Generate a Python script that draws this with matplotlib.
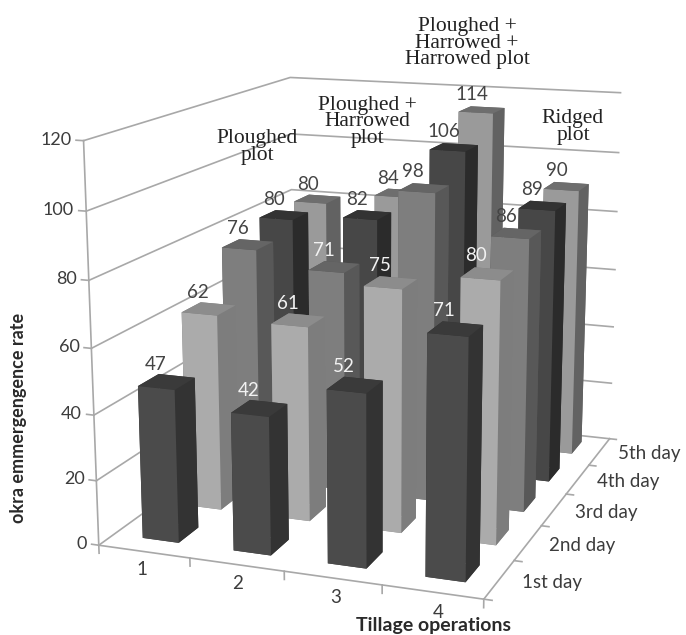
#!/usr/bin/env python3
# -*- coding: utf-8 -*-
import matplotlib
matplotlib.use('Agg')
import matplotlib.pyplot as plt

operations = ['1', '2', '3', '4']
days = ['1st day', '2nd day', '3rd day', '4th day', '5th day']
z_ticks = [0, 20, 40, 60, 80, 100, 120]

# emergence rate per tillage operation, one row per day
day1 = [47, 42, 52, 71]
day2 = [62, 61, 75, 80]
day3 = [76, 71, 98, 86]
day4 = [80, 82, 106, 89]
day5 = [80, 84, 114, 90]
rates = [day1, day2, day3, day4, day5]

# front, top, side shades for each day
shades = [('#4b4b4b', '#3a3a3a', '#333333'),
          ('#ababab', '#8c8c8c', '#7d7d7d'),
          ('#7e7e7e', '#656565', '#585858'),
          ('#474747', '#333333', '#2b2b2b'),
          ('#9a9a9a', '#6e6e6e', '#626262')]

dark = '#444444'
pale = '#f2f2f2'
label_colours = [[dark, pale, pale, pale],
                 [dark, pale, pale, pale],
                 [dark, pale, dark, dark],
                 [dark, dark, dark, dark],
                 [dark, dark, dark, dark]]

plot_names = [('Ploughed\nplot', 257, 147),
              ('Ploughed +\nHarrowed\nplot', 367, 122),
              ('Ploughed +\nHarrowed +\nHarrowed plot', 467, 43),
              ('Ridged\nplot', 573, 127)]

grid_col = '#a8a8a8'
text_col = '#3c3c3c'
font = ['Lato', 'DejaVu Sans']

fig = plt.figure(figsize=(6.86, 6.35), dpi=100)
ax = fig.add_axes([0.034, 0.005, 1.0, 1.0], projection='3d', computed_zorder=False)
ax.set_proj_type('persp', focal_length=0.55)
ax.view_init(elev=14, azim=-70)
ax.set_xlim(0, 4, view_margin=0)
ax.set_ylim(0, 5, view_margin=0)
ax.set_zlim(0, 120, view_margin=0)
ax.set_box_aspect((369, 470, 375), zoom=1.105)
ax.set_axis_off()

# walls and floor
for z in z_ticks:
    ax.plot([0, 0, 4], [0, 5, 5], [z, z, z], color=grid_col, lw=1.2, zorder=1)
ax.plot([0, 0], [0, 0], [0, 120], color=grid_col, lw=1.2, zorder=1)
ax.plot([0, 4, 4], [0, 0, 5], [0, 0, 0], color=grid_col, lw=1.2, zorder=1)

# tick marks
for z in z_ticks:
    ax.plot([0, -0.08], [0, 0], [z, z], color=grid_col, lw=1.2, zorder=1)
for i in range(5):
    ax.plot([i, i], [0, 0], [0, -2.5], color=grid_col, lw=1.2, zorder=1)
for j in range(6):
    ax.plot([4, 4.08], [j, j], [0, 0], color=grid_col, lw=1.2, zorder=1)

# bars, painted from the back row to the front, left to right
bar_w = 0.40
bar_d = 0.45
order = 10
for j in range(len(days) - 1, -1, -1):
    for i in range(len(operations)):
        front, top, side = shades[j]
        # bar3d face order: bottom, top, front, back, left, right
        ax.bar3d(i + 0.52 - bar_w / 2, j + 0.55 - bar_d / 2, 0, bar_w, bar_d, rates[j][i],
                 color=[top, top, front, side, side, side], shade=False, zorder=order)
        order += 1

# value labels sit above every bar
for j in range(len(days)):
    for i in range(len(operations)):
        ax.text(i + 0.405, j + 0.55, rates[j][i] + 5, str(rates[j][i]), ha='center', va='center',
                color=label_colours[j][i], fontsize=13.5, family=font, zorder=100)

for z in z_ticks:
    ax.text(-0.13, 0, z, str(z), ha='right', va='center', color=text_col, fontsize=13,
            family=font, zorder=100)
for i, name in enumerate(operations):
    ax.text(i + 0.7, -0.42, 0, name, ha='center', va='center', color=text_col, fontsize=13.5,
            family=font, zorder=100)
for j, name in enumerate(days):
    ax.text(4.22, j + 0.5, 0, name, ha='left', va='center', color=text_col, fontsize=13.5,
            family=font, zorder=100)

for name, px, py in plot_names:
    fig.text(px / 686, 1 - py / 635, name, ha='center', va='center', fontsize=15.5,
             family='Liberation Serif', color='#222222', linespacing=0.8, zorder=200)

fig.text(19 / 686, 1 - 418 / 635, 'okra emmergengence rate', rotation=90, ha='center', va='center',
         fontsize=13, fontweight='bold', family=font, color='#2a2a2a')
fig.text(433 / 686, 1 - 625 / 635, 'Tillage operations', ha='center', va='center',
         fontsize=14, fontweight='bold', family=font, color='#2a2a2a')

fig.savefig('out.png', dpi=100)
